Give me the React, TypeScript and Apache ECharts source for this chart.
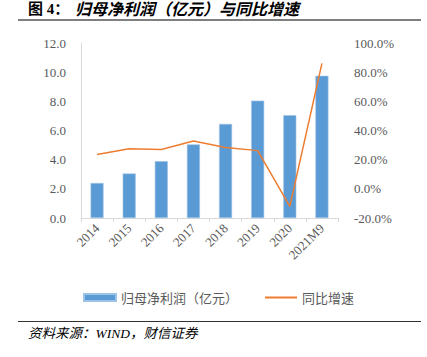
import React, { useEffect, useRef } from "react";
import * as echarts from "echarts";

const categories = ["2014", "2015", "2016", "2017", "2018", "2019", "2020", "2021M9"];
const profit = [2.4, 3.05, 3.9, 5.05, 6.45, 8.05, 7.05, 9.75];
const growth = [23.5, 27.5, 27.0, 32.8, 28.4, 26.2, -12.0, 86.0];
const leftTicks = { min: 0, max: 12, interval: 2 };
const rightTicks = { min: -20, max: 100, interval: 20 };

const serif = "'Liberation Serif', 'Times New Roman', 'Noto Sans CJK SC', serif";
const cjk = "'Noto Sans CJK SC', sans-serif";

export default function App() {
  const ref = useRef<HTMLDivElement>(null);
  useEffect(() => {
    if (!ref.current) return;
    const chart = echarts.init(ref.current, undefined, { renderer: "svg" });
    chart.setOption({
      animation: false,
      backgroundColor: "#ffffff",
      grid: { left: 81, right: 89, top: 43, bottom: 139 },
      legend: {
        top: 286,
        left: 78,
        itemWidth: 32,
        itemHeight: 7,
        itemGap: 26,
        textStyle: { fontFamily: cjk, fontSize: 13, color: "#595959" },
        data: [
          { name: "归母净利润（亿元）", icon: "rect" },
          { name: "同比增速", itemStyle: { opacity: 0 } },
        ],
      },
      xAxis: {
        type: "category",
        data: categories,
        axisLine: { lineStyle: { color: "#D9D9D9" } },
        axisTick: { show: true, alignWithLabel: false, length: 4, lineStyle: { color: "#D9D9D9" } },
        axisLabel: {
          rotate: 45,
          color: "#595959",
          fontFamily: serif,
          fontSize: 13,
          margin: 8,
          interval: 0,
        },
      },
      yAxis: [
        {
          type: "value",
          ...leftTicks,
          splitLine: { show: false },
          axisLine: { show: true, lineStyle: { color: "#D9D9D9" } },
          axisTick: { show: false },
          axisLabel: {
            color: "#595959",
            fontFamily: serif,
            fontSize: 13,
            margin: 15,
            formatter: (v: number) => v.toFixed(1),
          },
        },
        {
          type: "value",
          ...rightTicks,
          splitLine: { show: false },
          axisLine: { show: false },
          axisTick: { show: false },
          axisLabel: {
            color: "#595959",
            fontFamily: serif,
            fontSize: 13,
            margin: 16,
            formatter: (v: number) => v.toFixed(1) + "%",
          },
        },
      ],
      series: [
        {
          name: "归母净利润（亿元）",
          type: "bar",
          data: profit,
          barWidth: 13,
          itemStyle: { color: "#5B9BD5", borderColor: "#9DC3E6", borderWidth: 0.6 },
        },
        {
          name: "同比增速",
          type: "line",
          yAxisIndex: 1,
          data: growth,
          symbol: "none",
          lineStyle: { color: "#ED7D31", width: 1.5 },
          itemStyle: { color: "#ED7D31" },
        },
      ],
      graphic: [
        {
          type: "text",
          left: 28,
          top: 1,
          style: {
            text: "图 4：",
            font: "bold 15px " + serif,
            fill: "#000000",
          },
        },
        {
          type: "text",
          left: 75,
          top: 1,
          style: {
            text: "归母净利润（亿元）与同比增速",
            font: "italic bold 16px " + serif,
            fill: "#000000",
          },
        },
        {
          type: "line",
          shape: { x1: 18, y1: 20, x2: 421, y2: 20 },
          style: { stroke: "#000000", lineWidth: 1.2 },
        },
        {
          type: "line",
          shape: { x1: 18, y1: 321.5, x2: 421, y2: 321.5 },
          style: { stroke: "#333333", lineWidth: 1 },
        },
        {
          type: "text",
          left: 28,
          top: 327,
          style: {
            text: "资料来源：WIND，财信证券",
            font: "italic 13.5px " + serif,
            fill: "#000000",
          },
        },
      ],
    });
    return () => chart.dispose();
  }, []);
  return (
    <div
      ref={ref}
      style={{ position: "absolute", left: 0, top: 0, width: 427, height: 357 }}
    />
  );
}
